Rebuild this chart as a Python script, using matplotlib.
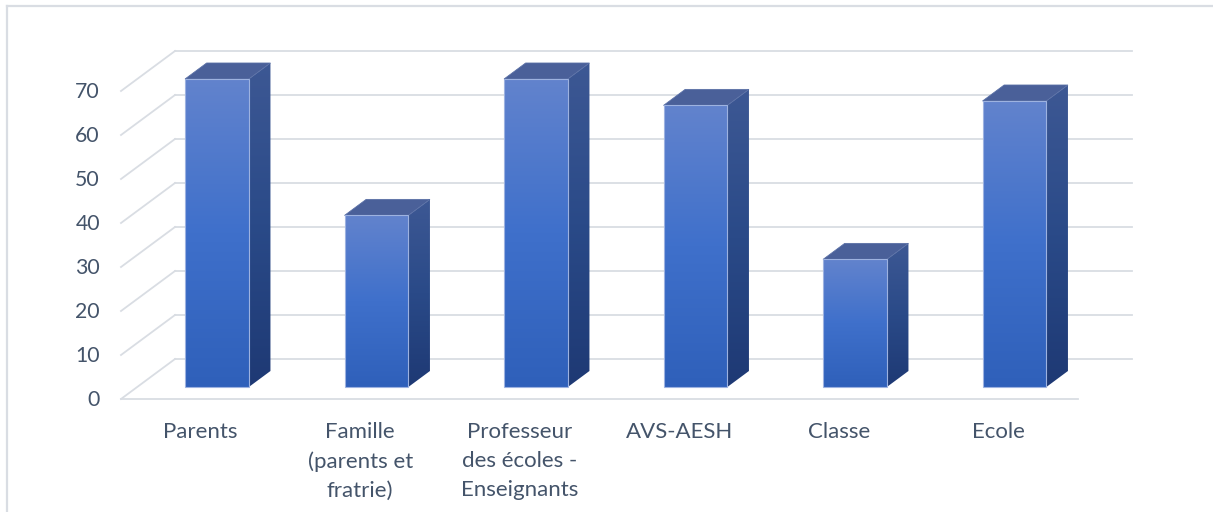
import numpy as np
import matplotlib.pyplot as plt
from matplotlib.patches import Polygon
from matplotlib.colors import LinearSegmentedColormap

categories = ['Parents', 'Famille\n(parents et\nfratrie)', 'Professeur\ndes écoles -\nEnseignants',
              'AVS-AESH', 'Classe', 'Ecole']
values = [70, 39, 70, 64, 29, 65]
yticks = [0, 10, 20, 30, 40, 50, 60, 70]

W, H = 1213, 512
# pixel layout of the fake 3D box
x0_px, slot_px = 121, 159.5
y0_px, unit_px = 399, 4.4
DX, DY = 54 / slot_px, 40 / unit_px   # depth offset in data units

fig = plt.figure(figsize=(W / 100, H / 100), dpi=100)
ax = fig.add_axes([0, 0, 1, 1])
ax.axis('off')

grid_c = '#d9dde3'
text_c = '#44546a'
plt.rcParams['font.family'] = ['Lato', 'DejaVu Sans']

# chart border
fig.add_artist(plt.Line2D([7 / W, 7 / W], [0, 1 - 6 / H], transform=fig.transFigure, color=grid_c, lw=1.6))
fig.add_artist(plt.Line2D([7 / W, 1], [1 - 6 / H, 1 - 6 / H], transform=fig.transFigure, color=grid_c, lw=1.6))

n = len(categories)
# gridlines: back wall + left side wall diagonals
for v in yticks:
    ax.plot([DX, n + DX], [v + DY, v + DY], color=grid_c, lw=1.3, zorder=1)
    ax.plot([0, DX], [v, v + DY], color=grid_c, lw=1.3, zorder=1)
ax.plot([0, n], [0, 0], color=grid_c, lw=1.3, zorder=1)

for v in yticks:
    ax.text(-21 / slot_px, v - 0.3, str(v), ha='right', va='center', fontsize=15.3, color=text_c)

for i, lab in enumerate(categories):
    ax.text(i + 0.5, -5.3, lab, ha='center', va='top', fontsize=16, color=text_c, linespacing=1.55)

front_cmap = LinearSegmentedColormap.from_list('front', ['#6283cd', '#3f70cb', '#2f60ba'])
side_cmap = LinearSegmentedColormap.from_list('side', ['#3d5894', '#2a4a88', '#1e3974'])
grad = np.linspace(0, 1, 256).reshape(-1, 1)

w0, w1, d0, d1 = 0.3, 0.7, 0.3, 0.7
for i, v in enumerate(values):
    xa, xb = i + w0 + d0 * DX, i + w1 + d0 * DX
    ya, yb = d0 * DY, v + d0 * DY
    ex, ey = (d1 - d0) * DX, (d1 - d0) * DY
    front = Polygon([(xa, ya), (xb, ya), (xb, yb), (xa, yb)], closed=True, facecolor='none',
                    edgecolor='#9db2e0', lw=0.8, zorder=4)
    side = Polygon([(xb, ya), (xb + ex, ya + ey), (xb + ex, yb + ey), (xb, yb)], closed=True,
                   facecolor='none', edgecolor='none', zorder=3)
    top = Polygon([(xa, yb), (xb, yb), (xb + ex, yb + ey), (xa + ex, yb + ey)], closed=True,
                  facecolor='#4a6099', edgecolor='#5a70a6', lw=0.6, zorder=3)
    ax.add_patch(front)
    ax.add_patch(side)
    ax.add_patch(top)
    im = ax.imshow(grad, cmap=front_cmap, extent=(xa, xb, ya, yb), origin='upper',
                   aspect='auto', zorder=2.5)
    im.set_clip_path(front)
    im2 = ax.imshow(grad, cmap=side_cmap, extent=(xb, xb + ex, ya, yb + ey), origin='upper',
                    aspect='auto', zorder=2.5)
    im2.set_clip_path(side)

ax.set_xlim(-x0_px / slot_px, (W - x0_px) / slot_px)
ax.set_ylim(-(H - y0_px) / unit_px, y0_px / unit_px)
fig.savefig('out.png', dpi=100, facecolor='white')
